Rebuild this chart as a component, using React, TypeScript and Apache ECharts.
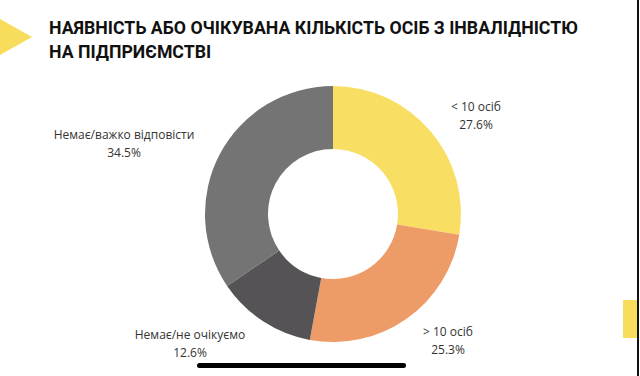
import React, { useEffect, useRef } from "react";
import * as echarts from "echarts";

const categories = ["< 10 осіб", "> 10 осіб", "Немає/не очікуємо", "Немає/важко відповісти"];
const values = [27.6, 25.3, 12.6, 34.5];
const colors = ["#F8DF63", "#EE9C67", "#555356", "#747474"];
const titleText = "НАЯВНІСТЬ АБО ОЧІКУВАНА КІЛЬКІСТЬ ОСІБ З ІНВАЛІДНІСТЮ\nНА ПІДПРИЄМСТВІ";

export default function App() {
  const ref = useRef<HTMLDivElement>(null);
  useEffect(() => {
    document.body.style.margin = "0";
    const chart = echarts.init(ref.current!, null, { renderer: "svg" });
    const labelPos = [
      [476, 115],
      [448, 340],
      [190, 343],
      [124, 143],
    ];
    chart.setOption({
      animation: false,
      backgroundColor: "#ffffff",
      title: {
        text: titleText,
        left: 44,
        top: 11,
        textStyle: {
          fontFamily: "Roboto",
          fontWeight: "bold",
          fontSize: 17.7,
          lineHeight: 24,
          color: "#111111",
        },
      },
      graphic: [
        {
          type: "polygon",
          shape: { points: [[0, 19], [32, 37], [0, 55]] },
          style: { fill: "#F8DC5C" },
        },
        {
          type: "rect",
          shape: { x: 623, y: 300, width: 14, height: 38 },
          style: { fill: "#F8DC5C" },
        },
        {
          type: "rect",
          shape: { x: 637, y: 0, width: 2, height: 376 },
          style: { fill: "#111111" },
        },
        {
          type: "rect",
          shape: { x: 197, y: 363, width: 209, height: 5, r: 2.5 },
          style: { fill: "#000000" },
        },
      ],
      series: [
        {
          type: "pie",
          center: [333, 214],
          radius: [65, 128],
          startAngle: 90,
          clockwise: true,
          data: categories.map((c, i) => ({
            name: c,
            value: values[i],
            itemStyle: { color: colors[i] },
          })),
          label: {
            show: true,
            position: "outside",
            formatter: (p: any) => `${p.name}\n${p.value.toFixed(1)}%`,
            fontFamily: "Open Sans",
            fontSize: 12,
            lineHeight: 18,
            color: "#333333",
            align: "center",
          },
          labelLine: { show: false },
          labelLayout: (p: any) => ({
            x: labelPos[p.dataIndex][0],
            y: labelPos[p.dataIndex][1],
            align: "center",
            verticalAlign: "middle",
          }),
          emphasis: { disabled: true },
        },
      ],
    });
    return () => chart.dispose();
  }, []);
  return <div ref={ref} style={{ width: 640, height: 376 }} />;
}
